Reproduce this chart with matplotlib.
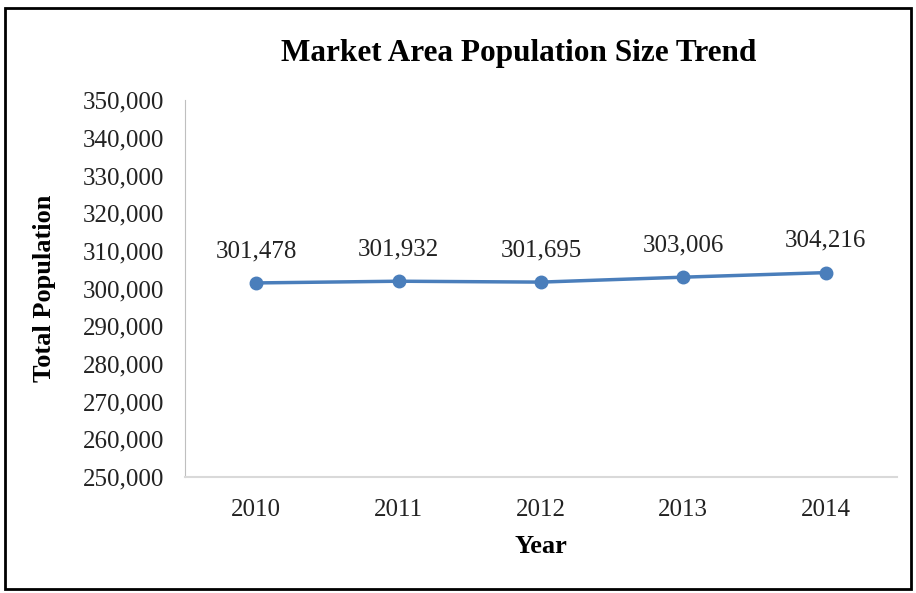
import matplotlib
matplotlib.use("Agg")
import matplotlib.pyplot as plt
from matplotlib.patches import Rectangle
from matplotlib.ticker import FuncFormatter

# Data
YEARS = ["2010", "2011", "2012", "2013", "2014"]
POPULATION = [301478, 301932, 301695, 303006, 304216]

LINE_COLOR = "#4A7EBB"

plt.rcParams["font.family"] = ["Liberation Serif", "DejaVu Serif"]

fig = plt.figure(figsize=(9.16, 5.93), dpi=100)
ax = fig.add_axes([0.202, 0.196, 0.777, 0.635])

x = list(range(len(YEARS)))
ax.plot(x, POPULATION, color=LINE_COLOR, linewidth=2.5,
        marker="o", markersize=9, zorder=3)

for xi, value in zip(x, POPULATION):
    ax.annotate(f"{value:,}", (xi, value), xytext=(0, 15),
                textcoords="offset points", ha="center", va="bottom",
                fontsize=18, color="#222222")

ax.set_xlim(-0.5, len(YEARS) - 0.5)
ax.set_ylim(250000, 350000)
ax.set_xticks(x)
ax.set_xticklabels(YEARS)
ax.set_yticks(range(250000, 350001, 10000))
ax.yaxis.set_major_formatter(FuncFormatter(lambda v, _: f"{int(v):,}"))
ax.tick_params(length=0, labelsize=18, colors="#222222")
ax.tick_params(axis="y", pad=15)
ax.tick_params(axis="x", pad=16)

for side in ["top", "right"]:
    ax.spines[side].set_visible(False)
ax.spines["left"].set_color("#BFBFBF")
ax.spines["bottom"].set_color("#D9D9D9")
ax.spines["bottom"].set_linewidth(1.5)

ax.set_xlabel("Year", fontsize=19, fontweight="bold", labelpad=10)
ax.set_ylabel("Total Population", fontsize=19, fontweight="bold", labelpad=19)
fig.text(0.566, 0.91, "Market Area Population Size Trend",
         ha="center", va="center", fontsize=22.5, fontweight="bold")

# outer chart border
fig.patches.append(Rectangle((0.006, 0.006), 0.989, 0.98,
                             transform=fig.transFigure, fill=False,
                             edgecolor="black", linewidth=2))

fig.savefig("out.png", dpi=100)
